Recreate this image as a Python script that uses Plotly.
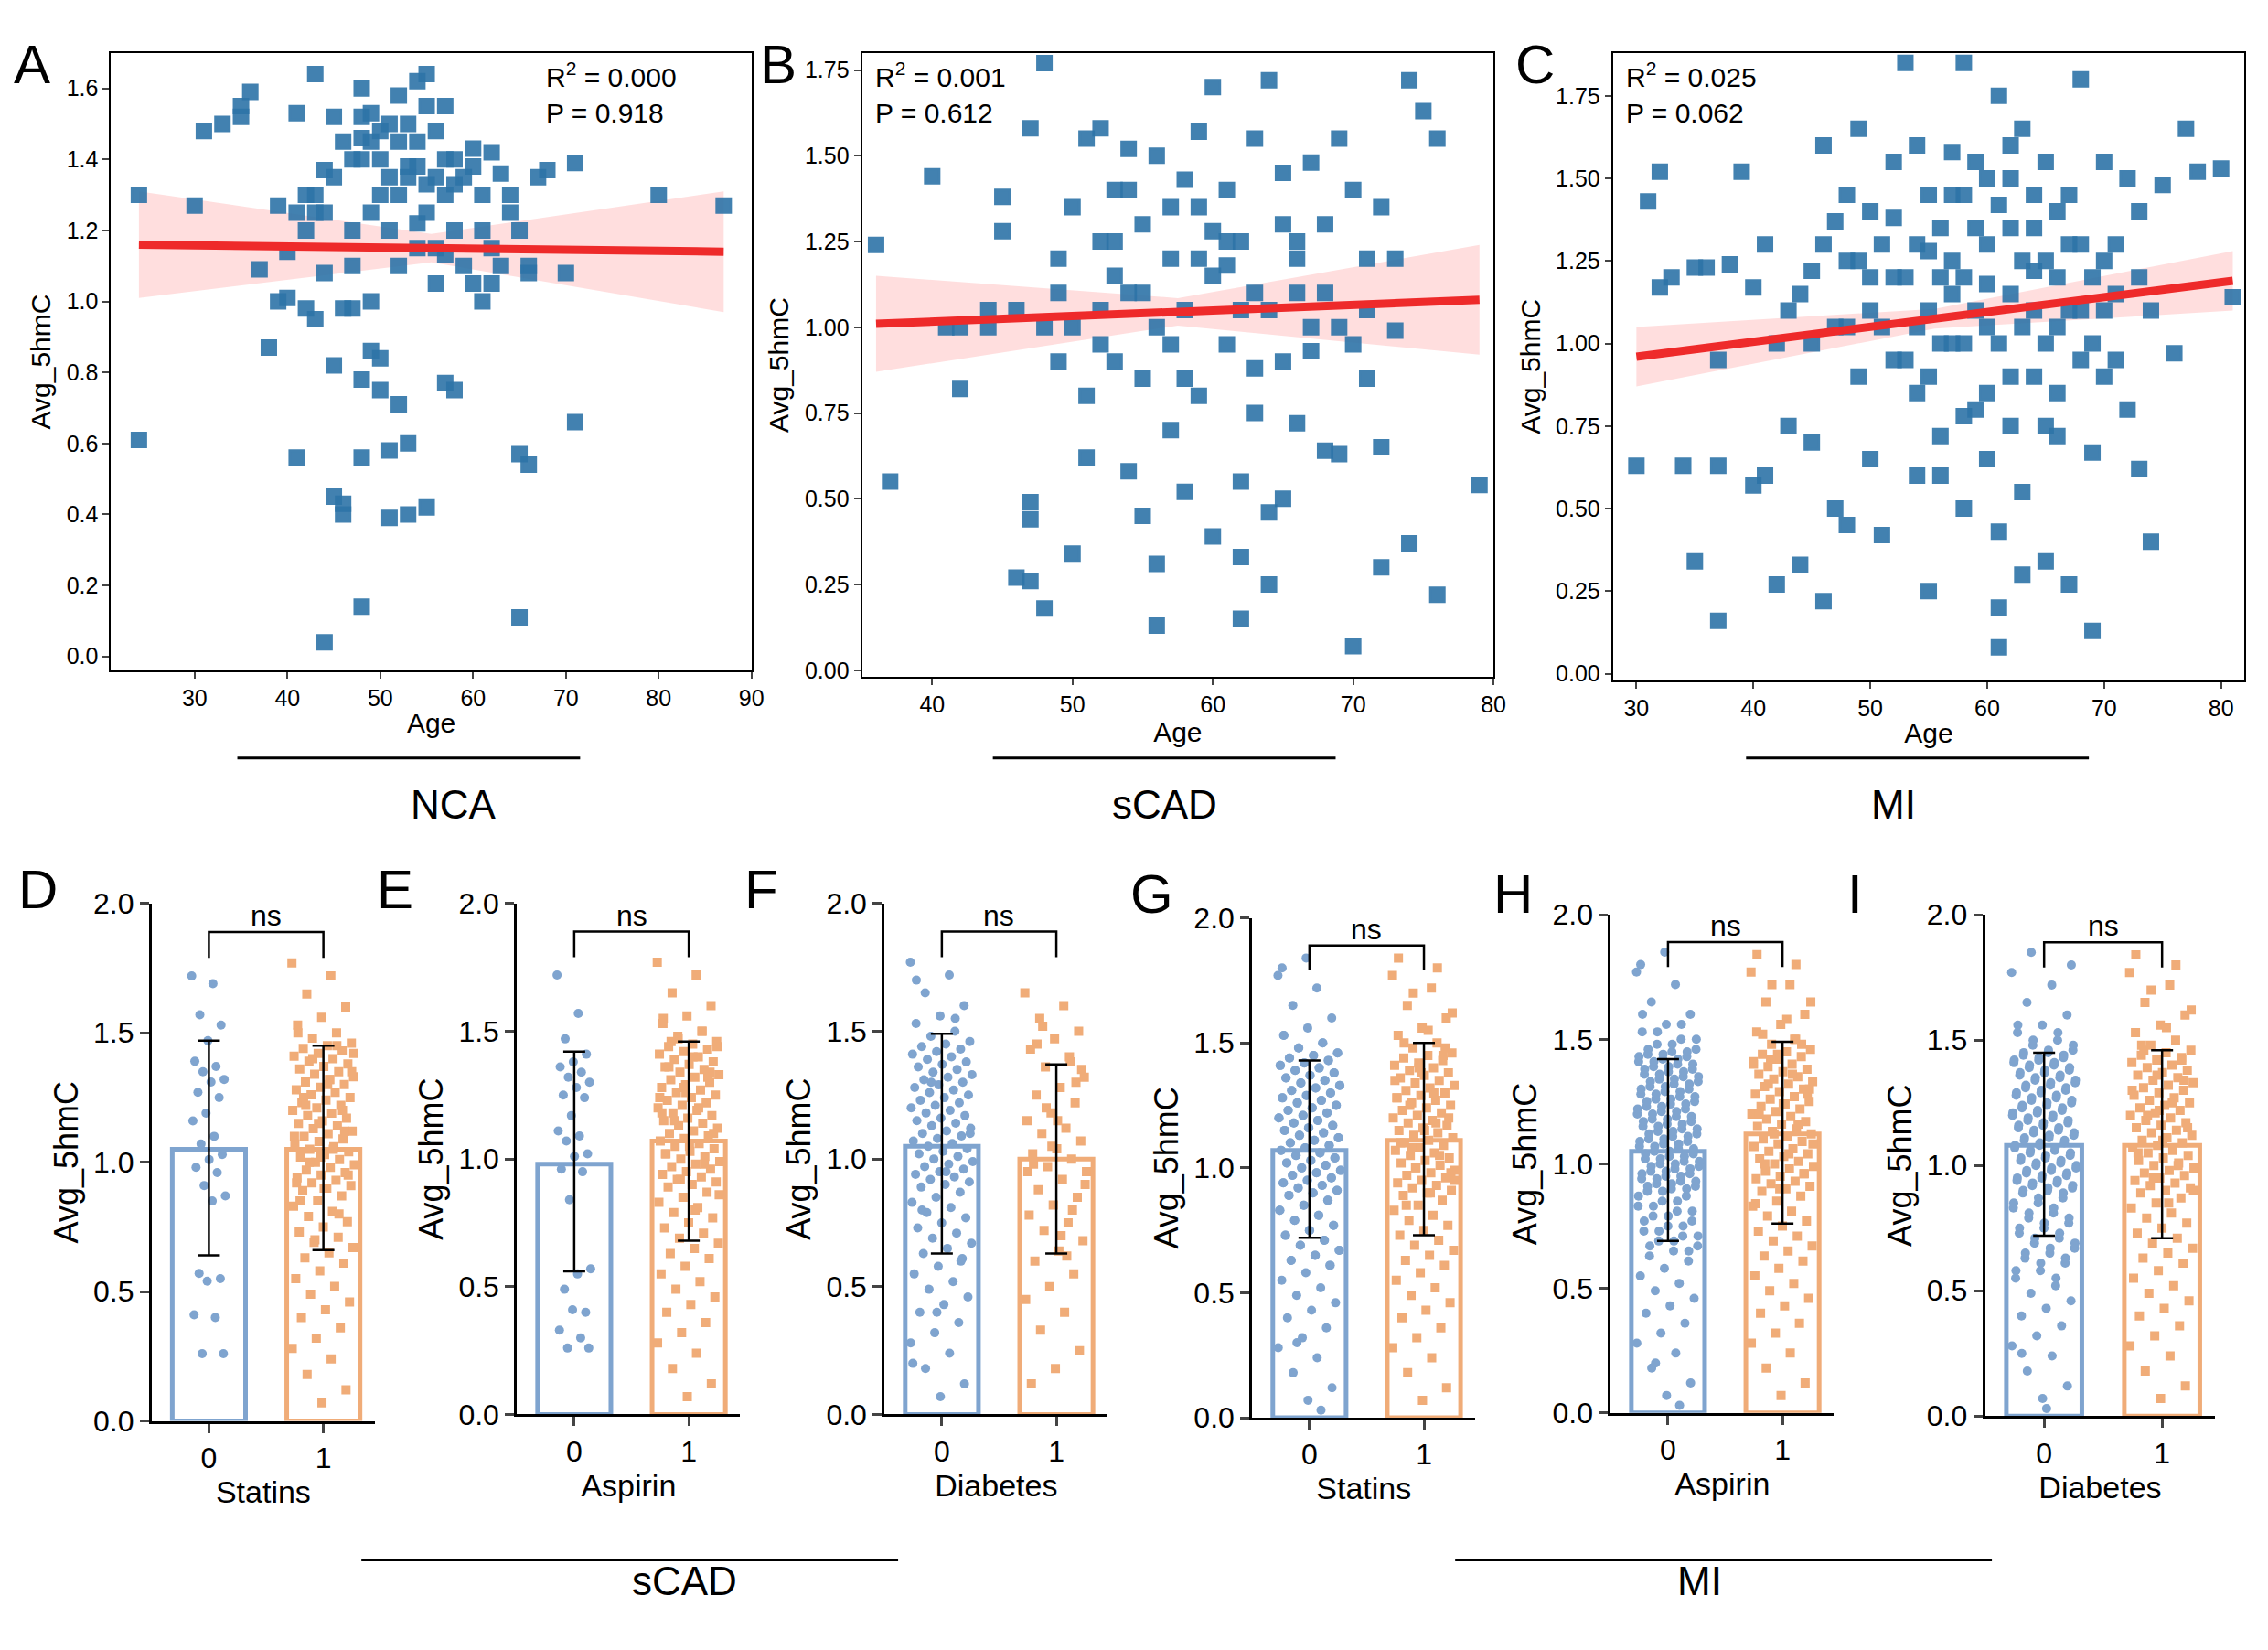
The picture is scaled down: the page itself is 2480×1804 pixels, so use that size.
import numpy as np
import plotly.graph_objects as go

FONT = "Liberation Sans, Arial"

# ---------------- scatter data ----------------
A_pts = [(24,1.30),(24,0.61),(30,1.27),(31,1.48),(33,1.50),(35,1.52),(35,1.55),(36,1.59),(37,1.09),(38,0.87),(39,1.27),(40,1.01),(41,1.53),(41,0.56),(42,1.30),(42,0.98),(43,1.25),(43,1.64),(43,0.95),(44,1.37),(44,1.08),(45,1.52),(45,0.82),(45,0.45),(46,0.40),(46,0.43),(47,0.98),(47,1.20),(48,1.52),(48,1.46),(48,0.78),(48,0.56),(48,0.14),(44,0.04),(49,1.53),(49,0.86),(50,1.40),(50,0.84),(51,0.58),(51,0.39),(52,1.58),(52,0.71),(53,0.40),(53,0.60),(54,1.62),(54,1.22),(55,1.64),(55,0.42),(56,1.35),(57,1.13),(57,0.77),(58,0.75),(58,1.33),(60,1.38),(61,1.20),(62,1.42),(63,1.36),(64,1.25),(65,0.57),(65,0.11),(66,0.54),(66,1.08),(67,1.35),(68,1.37),(70,1.08),(71,0.66),(71,1.39),(80,1.30),(87,1.27),(50,1.30),(51,1.20),(52,1.10),(53,1.35),(54,1.45),(55,1.25),(56,1.15),(57,1.30),(58,1.40),(59,1.10),(60,1.05),(61,1.30),(62,1.15),(63,1.10),(64,1.30),(65,1.20),(66,1.10),(47,1.40),(46,1.45),(49,1.25),(50,1.48),(51,1.50),(45,1.35),(44,1.25),(43,1.30),(42,1.20),(41,1.25),(40,1.14),(39,1.00),(47,1.10),(49,1.00),(46,0.98),(52,1.45),(53,1.38),(55,1.33),(54,1.15),(56,1.48),(57,1.40),(58,1.20),(48,1.60),(59,1.35),(60,1.43),(61,1.00),(62,1.05),(50,0.75),(48,1.40),(55,1.55),(53,1.50),(56,1.05),(52,1.30),(54,1.38),(57,1.55),(49,1.45),(51,1.35)]
B_pts = [(36,1.24),(37,0.55),(40,1.44),(41,1.00),(42,0.82),(42,1.00),(44,1.05),(45,1.28),(45,1.38),(46,0.27),(47,0.26),(47,0.44),(47,0.49),(48,1.77),(48,0.18),(47,1.58),(49,1.10),(49,1.20),(50,1.35),(50,0.34),(51,1.55),(51,0.62),(52,1.58),(52,1.25),(52,0.95),(53,1.40),(53,0.90),(54,1.52),(54,0.58),(55,1.30),(55,0.85),(55,0.45),(56,1.50),(56,0.13),(56,0.31),(57,1.20),(57,0.70),(58,1.43),(58,1.05),(58,0.52),(59,1.57),(59,0.80),(60,1.28),(60,1.70),(60,0.39),(61,1.18),(61,0.95),(62,0.33),(62,0.15),(62,0.55),(63,1.55),(63,1.10),(63,0.88),(64,1.72),(64,0.25),(64,0.46),(65,1.30),(65,0.50),(66,1.20),(66,0.72),(67,1.48),(67,0.93),(68,1.10),(68,0.64),(69,1.55),(69,0.63),(70,1.40),(70,0.07),(71,1.20),(71,0.85),(72,0.65),(72,0.30),(73,1.20),(73,0.99),(74,1.72),(74,0.37),(75,1.63),(76,1.55),(76,0.22),(79,0.54),(50,1.00),(51,0.80),(53,1.25),(54,1.10),(56,1.00),(57,0.95),(59,1.35),(60,1.15),(61,1.40),(62,1.25),(64,1.05),(65,0.90),(66,1.25),(68,1.30),(55,1.10),(52,1.05),(49,0.90),(48,1.00),(46,1.05),(44,1.00),(58,0.85),(63,0.75),(67,1.00),(70,0.95),(71,1.05),(72,1.35),(69,1.00),(53,1.15),(57,1.35),(61,1.25),(65,1.45),(59,1.20),(54,1.40),(62,1.05),(66,1.10)]
C_pts = [(30,0.63),(31,1.43),(32,1.52),(32,1.17),(33,1.20),(34,0.63),(35,0.34),(35,1.23),(36,1.23),(37,0.16),(37,0.63),(37,0.95),(38,1.24),(39,1.52),(40,0.57),(40,1.17),(41,1.30),(41,0.60),(42,0.27),(42,1.00),(43,0.75),(44,0.33),(45,1.22),(45,0.70),(46,0.22),(46,1.60),(47,0.50),(47,1.37),(48,1.25),(48,0.45),(49,1.65),(49,0.90),(50,1.10),(50,0.65),(51,1.30),(51,0.42),(52,1.55),(52,0.95),(53,1.85),(53,1.20),(54,0.60),(54,0.85),(55,0.25),(55,1.45),(56,1.00),(56,0.72),(57,1.58),(57,1.25),(58,1.85),(58,0.50),(59,1.35),(59,0.80),(60,0.65),(60,1.05),(61,0.08),(61,0.20),(61,0.43),(61,1.75),(62,1.50),(62,1.15),(63,0.30),(63,1.65),(64,0.90),(64,1.35),(65,0.34),(65,1.55),(66,1.20),(66,0.72),(67,1.45),(67,0.27),(68,1.80),(68,0.95),(69,0.13),(69,0.67),(70,1.55),(70,1.25),(71,0.95),(72,0.80),(72,1.50),(73,0.62),(73,1.20),(74,1.10),(75,1.48),(76,0.97),(77,1.65),(78,1.52),(80,1.53),(81,1.14),(74,0.40),(45,1.00),(48,1.05),(50,1.40),(52,1.20),(54,1.30),(55,1.10),(57,1.00),(58,1.20),(59,1.10),(60,1.30),(61,1.00),(62,0.90),(63,1.25),(64,1.10),(65,1.00),(66,1.40),(67,1.10),(68,1.30),(69,1.00),(70,1.10),(71,1.30),(53,0.95),(51,1.05),(49,1.25),(47,1.05),(44,1.15),(43,1.10),(56,1.35),(58,1.45),(60,1.50),(62,1.35),(64,1.45),(66,1.05),(62,0.75),(60,0.85),(58,0.78),(56,0.60),(54,1.60),(57,1.45),(65,0.75),(63,0.55),(52,1.38),(55,1.28),(57,1.15),(59,1.55),(61,1.42),(63,1.05),(65,1.25),(67,1.30),(69,1.20),(71,1.15),(73,1.40),(56,1.20),(60,1.18),(64,1.22),(54,1.05),(50,1.20),(48,1.45),(46,1.30),(66,0.85),(68,1.10),(70,0.90),(62,1.60),(58,1.00),(55,0.90)]
fit_x = [(24,87),(36,79),(30,81)]
fit_y = [(1.16,1.14),(1.01,1.08),(0.96,1.19)]
band_half = [(0.15,0.04,0.17),(0.14,0.04,0.16),(0.09,0.03,0.09)]  # start, middle, end
stats_text = ["R<sup>2</sup> = 0.000<br>P = 0.918", "R<sup>2</sup> = 0.001<br>P = 0.612", "R<sup>2</sup> = 0.025<br>P = 0.062"]
group_top = ["NCA", "sCAD", "MI"]

# ---------------- bar data ----------------
bar_labels = ["Statins", "Aspirin", "Diabetes", "Statins", "Aspirin", "Diabetes"]
bar_mean = [(1.05,1.05),(0.98,1.07),(1.05,1.00),(1.07,1.11),(1.05,1.12),(1.08,1.08)]
bar_up   = [(1.47,1.45),(1.42,1.46),(1.49,1.37),(1.43,1.50),(1.42,1.49),(1.45,1.46)]
bar_lo   = [(0.64,0.66),(0.56,0.68),(0.63,0.63),(0.72,0.73),(0.69,0.76),(0.72,0.71)]
base_hi = [1.77,1.72,1.65,1.60,1.56,1.53,1.50,1.48,1.46,1.45,1.44,1.43,1.42,1.41,1.40,1.39,1.38,1.37,1.36,1.35,1.34,1.33,1.32,1.31,1.30,1.29,1.28,1.27,1.26,1.25,1.24,1.23,1.22,1.21,1.20,1.19,1.18,1.17,1.16,1.15,1.14,1.13,1.12,1.11,1.10,1.09,1.08,1.07,1.06,1.05,1.04,1.03,1.02,1.01,1.00,0.99,0.98,0.97,0.96,0.95,0.94,0.93,0.92,0.91,0.90,0.89,0.87,0.85,0.83,0.81,0.79,0.77,0.75,0.73,0.71,0.69,0.67,0.65,0.63,0.61,0.58,0.55,0.52,0.49,0.46,0.43,0.40,0.36,0.32,0.28,0.24,0.18,0.12,0.07]
D0 = [1.72,1.69,1.57,1.53,1.47,1.39,1.37,1.35,1.32,1.31,1.27,1.25,1.19,1.16,1.10,1.07,1.03,1.01,0.98,0.96,0.91,0.87,0.85,0.57,0.55,0.54,0.41,0.40,0.26,0.26]
E0 = [1.72,1.57,1.47,1.41,1.38,1.36,1.34,1.32,1.30,1.28,1.25,1.24,1.17,1.11,1.09,1.07,1.02,1.01,0.96,0.95,0.84,0.57,0.55,0.49,0.40,0.41,0.33,0.30,0.26,0.26]
F0 = base_hi + [1.70,1.55,1.30,1.10,0.95,0.80,0.60,0.40,0.20]
F1 = [1.65,1.60,1.55,1.50,1.47,1.43,1.40,1.36,1.32,1.28,1.25,1.22,1.18,1.15,1.12,1.10,1.07,1.04,1.02,1.00,0.97,0.95,0.92,0.88,0.85,0.82,0.78,0.75,0.72,0.68,0.64,0.60,0.55,0.50,0.45,0.40,0.33,0.25,0.18,0.12,1.38,1.20,0.90,0.70,1.45,1.30,1.05,0.95,0.62,1.52,1.35,1.15,0.98,0.80]
D1 = base_hi + [1.50,1.45,1.40,1.35,1.30,1.25,1.20,1.15,1.10,1.05,1.00,0.95,0.90,0.85,0.80,0.70,1.42,1.32,1.22,1.12,1.02,0.92]
E1 = base_hi + [1.55,1.50,1.47,1.44,1.40,1.36,1.32,1.28,1.24,1.20,1.15,1.10,1.05,1.02,0.98,0.92,0.86,0.80,1.46,1.34,1.26,1.18]
G0 = base_hi + base_hi[5:80] + [1.84,1.80,0.03,0.30]
G1 = base_hi + [1.84,1.80,1.70,1.62,1.55,1.50,1.45,1.40,1.35,1.30,1.25,1.20,1.15,1.10,1.05,1.00,0.95,0.90,0.85,1.48,1.38,1.28,1.18,1.08,0.98]
H0 = base_hi + base_hi[3:78] + [1.85,1.80,0.03,0.20]
H1 = base_hi + [1.84,1.80,1.72,1.65,1.58,1.52,1.48,1.44,1.40,1.36,1.32,1.28,1.24,1.20,1.16,1.12,1.08,1.04,1.00,0.96,0.90,0.84,1.50,1.42,1.30]
I0 = base_hi + base_hi[4:82] + [1.85,1.80,0.03,0.25]
I1 = base_hi + [1.84,1.80,1.70,1.62,1.55,1.48,1.42,1.36,1.30,1.25,1.20,1.15,1.10,1.05,1.00,0.95,0.90,0.85,1.46,1.34,1.22]
dots = [(D0,D1),(E0,E1),(F0,F1),(G0,G1),(H0,H1),(I0,I1)]
letters = list("ABCDEFGHI")

BLUE_SC = "#2E74A8"; RED = "#EE2A2A"
BLUE = "#7FA4CF"; ORANGE = "#F0AC78"

fig = go.Figure()
axfont = dict(family=FONT, size=25, color="black")

top_dom_x = [(0.046,0.330),(0.379,0.659),(0.712,0.992)]
top_dom_y = [(0.600,0.982),(0.596,0.982),(0.594,0.982)]
top_rng_x = [(21,90),(35,80),(28,82)]
top_rng_y = [(-0.04,1.70),(-0.02,1.80),(-0.02,1.88)]
top_dt_y = [0.2,0.25,0.25]
top_fmt = [".1f",".2f",".2f"]

for i, pts in enumerate([A_pts, B_pts, C_pts]):
    n = i + 1
    xs = [p[0] for p in pts]; ys = [p[1] for p in pts]
    xa = f"x{n}" if n > 1 else "x"; ya = f"y{n}" if n > 1 else "y"
    x0, x1 = fit_x[i]; y0, y1 = fit_y[i]
    xm = (x0 + x1) / 2; ym = (y0 + y1) / 2
    h0, hm, h1 = band_half[i]
    bx = [x0, xm, x1, x1, xm, x0]
    by = [y0 + h0, ym + hm, y1 + h1, y1 - h1, ym - hm, y0 - h0]
    fig.add_trace(go.Scatter(x=bx, y=by, mode="lines", fill="toself", fillcolor="rgba(255,200,200,0.6)", line=dict(width=0),
                             xaxis=xa, yaxis=ya, hoverinfo="skip"))
    fig.add_trace(go.Scatter(x=xs, y=ys, mode="markers", marker=dict(size=15, color=BLUE_SC, opacity=0.9, symbol="square",
                             line=dict(width=3, color=BLUE_SC)), xaxis=xa, yaxis=ya))
    fig.add_trace(go.Scatter(x=[x0, x1], y=[y0, y1], mode="lines", line=dict(color=RED, width=9), xaxis=xa, yaxis=ya))
    fig.layout[f"xaxis{n if n>1 else ''}"] = dict(domain=top_dom_x[i], range=top_rng_x[i], anchor=ya, dtick=10,
        showline=True, mirror=True, linecolor="black", linewidth=2, ticks="outside", ticklen=7, tickwidth=2,
        showgrid=False, zeroline=False, tickfont=axfont, title=dict(text="Age", font=dict(family=FONT, size=30, color="black"), standoff=4))
    fig.layout[f"yaxis{n if n>1 else ''}"] = dict(domain=top_dom_y[i], range=top_rng_y[i], anchor=xa, dtick=top_dt_y[i],
        tickformat=top_fmt[i], showline=True, mirror=True, linecolor="black", linewidth=2, ticks="outside", ticklen=7,
        tickwidth=2, showgrid=False, zeroline=False, tickfont=axfont,
        title=dict(text="Avg_5hmC", font=dict(family=FONT, size=30, color="black"), standoff=8))
    xd = top_dom_x[i]
    ax_ann_x = xd[1]-0.062 if i == 0 else xd[0]+0.005
    fig.add_annotation(x=ax_ann_x, y=top_dom_y[i][1]-0.002, xref="paper", yref="paper", text=stats_text[i],
                       showarrow=False, xanchor="left" if i else "center", yanchor="top", align="left",
                       font=dict(family=FONT, size=30, color="black"))

for cx, lab in zip([0.178, 0.513, 0.847], group_top):
    fig.add_shape(type="line", xref="paper", yref="paper", x0=cx-0.076, x1=cx+0.076, y0=0.546, y1=0.546, line=dict(color="black", width=3))
    fig.add_annotation(x=cx, y=0.517, xref="paper", yref="paper", text=lab, showarrow=False, font=dict(family=FONT, size=44, color="black"))

bot_dom_x = [(0.064,0.163),(0.226,0.325),(0.389,0.488),(0.552,0.651),(0.711,0.810),(0.877,0.979)]
bot_dom_y = [(0.136,0.456),(0.140,0.456),(0.140,0.456),(0.138,0.447),(0.141,0.449),(0.139,0.449)]
for k in range(6):
    n = k + 4
    xa = f"x{n}"; ya = f"y{n}"
    means = bar_mean[k]
    fig.add_trace(go.Bar(x=[0, 1], y=list(means), width=0.64, xaxis=xa, yaxis=ya,
                         marker=dict(color="rgba(255,255,255,0)", line=dict(color=[BLUE, ORANGE], width=5))))
    for g in range(2):
        vals = dots[k][g]
        m = len(vals)
        jit = np.array([(((j*0.6180339) % 1.0) - 0.5) for j in range(m)]) * (0.55 if m > 40 else 0.3)
        fig.add_trace(go.Scatter(x=g + jit, y=vals, mode="markers", xaxis=xa, yaxis=ya,
                                 marker=dict(size=10, color=BLUE if g == 0 else ORANGE, symbol="circle" if g == 0 else "square")))
    fig.add_trace(go.Scatter(x=[0, 1], y=list(means), mode="markers", marker=dict(size=2, color="black"), xaxis=xa, yaxis=ya,
                             error_y=dict(type="data", symmetric=False,
                                          array=[bar_up[k][0]-means[0], bar_up[k][1]-means[1]],
                                          arrayminus=[means[0]-bar_lo[k][0], means[1]-bar_lo[k][1]],
                                          color="black", thickness=2.5, width=12)))
    fig.layout[f"xaxis{n}"] = dict(domain=bot_dom_x[k], range=[-0.5, 1.45], anchor=ya, tickvals=[0, 1], ticktext=["0", "1"],
        showline=True, linecolor="black", linewidth=3, ticks="outside", ticklen=10, tickwidth=3, showgrid=False, zeroline=False,
        tickfont=dict(family=FONT, size=32, color="black"), title=dict(text=bar_labels[k], font=dict(family=FONT, size=34, color="black"), standoff=0))
    fig.layout[f"yaxis{n}"] = dict(domain=bot_dom_y[k], range=[0, 2.0], anchor=xa, dtick=0.5, tickformat=".1f",
        showline=True, linecolor="black", linewidth=3, ticks="outside", ticklen=10, tickwidth=3, showgrid=False, zeroline=False,
        tickfont=dict(family=FONT, size=32, color="black"), title=dict(text="Avg_5hmC", font=dict(family=FONT, size=36, color="black"), standoff=6))
    fig.add_shape(type="path", xref=xa, yref=ya, path="M 0,1.79 L 0,1.89 L 1,1.89 L 1,1.79", line=dict(color="black", width=2.5))
    fig.add_annotation(x=0.5, y=1.89, xref=xa, yref=ya, text="ns", showarrow=False, yanchor="bottom", yshift=-2,
                       font=dict(family=FONT, size=32, color="black"))

let_pos = [(0.002,0.995),(0.333,0.995),(0.668,0.995),(0.004,0.485),(0.163,0.485),(0.326,0.485),(0.497,0.482),(0.658,0.482),(0.815,0.482)]
for L, (x, y) in zip(letters, let_pos):
    fig.add_annotation(x=x, y=y, xref="paper", yref="paper", text=L, showarrow=False, xanchor="left", yanchor="top",
                       font=dict(family=FONT, size=60, color="black"))

for cx, lab in zip([0.276, 0.761], ["sCAD", "MI"]):
    fig.add_shape(type="line", xref="paper", yref="paper", x0=cx-0.119, x1=cx+0.119, y0=0.050, y1=0.050, line=dict(color="black", width=3))
    fig.add_annotation(x=cx, y=0.022, xref="paper", yref="paper", text=lab, showarrow=False, font=dict(family=FONT, size=44, color="black"))

fig.update_layout(width=2480, height=1804, showlegend=False, plot_bgcolor="white", paper_bgcolor="white",
                  font=dict(family=FONT, color="black"),
                  margin=dict(l=0, r=0, t=0, b=0), barmode="overlay")
fig.write_html("out.html")
